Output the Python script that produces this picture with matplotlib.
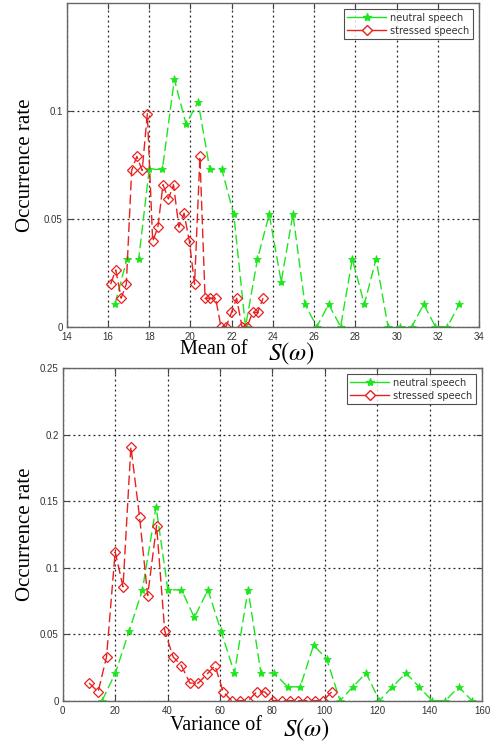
import numpy as np
import matplotlib
matplotlib.use('Agg')
import matplotlib.pyplot as plt

plt.rcParams['mathtext.fontset'] = 'stix'

# mean of S(w): histogram points, neutral speech
mean_neutral_x = [16.34, 16.92, 17.49, 18.0, 18.64, 19.22, 19.79, 20.37, 20.94, 21.52,
                  22.10, 22.67, 23.25, 23.82, 24.40, 24.97, 25.55, 26.13, 26.70, 27.28,
                  27.85, 28.43, 29.00, 29.58, 30.16, 30.73, 31.31, 31.88, 32.46, 33.03]
mean_neutral_y = [0.0104, 0.0313, 0.0313, 0.0729, 0.0729, 0.1146, 0.0938, 0.1042, 0.0729, 0.0729,
                  0.0521, 0.0, 0.0313, 0.0521, 0.0208, 0.0521, 0.0104, 0.0, 0.0104, 0.0,
                  0.0313, 0.0104, 0.0313, 0.0, 0.0, 0.0, 0.0104, 0.0, 0.0, 0.0104]

# mean of S(w): stressed speech
mean_stressed_x = [16.13, 16.38, 16.64, 16.89, 17.15, 17.40, 17.66, 17.91, 18.17, 18.42,
                   18.67, 18.93, 19.18, 19.44, 19.69, 19.95, 20.20, 20.46, 20.71, 20.97,
                   21.22, 21.48, 21.73, 21.99, 22.24, 22.50, 22.75, 23.01, 23.26, 23.52]
mean_stressed_y = [0.0197, 0.0263, 0.0132, 0.0197, 0.0724, 0.0789, 0.0724, 0.0987, 0.0395, 0.0461,
                   0.0658, 0.0592, 0.0658, 0.0461, 0.0526, 0.0395, 0.0197, 0.0789, 0.0132, 0.0132,
                   0.0132, 0.0, 0.0, 0.0066, 0.0132, 0.0, 0.0, 0.0066, 0.0066, 0.0132]

# variance of S(w): neutral speech
var_neutral_x = [15.0, 20.1, 25.3, 30.4, 35.6, 40.1, 45.3, 50.2, 55.4, 60.4,
                 65.5, 70.7, 75.6, 80.6, 85.8, 90.6, 95.7, 100.7, 105.8, 110.7,
                 115.7, 120.8, 125.8, 130.9, 135.9, 140.9, 146.0, 151.1, 156.1]
var_neutral_y = [0.0, 0.0208, 0.0521, 0.0833, 0.1458, 0.0833, 0.0833, 0.0625, 0.0833, 0.0521,
                 0.0208, 0.0833, 0.0208, 0.0208, 0.0104, 0.0104, 0.0417, 0.0313, 0.0, 0.0104,
                 0.0208, 0.0, 0.0104, 0.0208, 0.0104, 0.0, 0.0, 0.0104, 0.0]

# variance of S(w): stressed speech
var_stressed_x = [10.1, 13.5, 16.7, 20.0, 23.0, 26.0, 29.3, 32.4, 35.8, 38.9,
                  42.1, 45.3, 48.5, 51.7, 54.9, 58.1, 61.2, 64.4, 67.6, 70.8,
                  74.0, 77.1, 80.3, 83.5, 86.7, 89.9, 93.1, 96.3, 99.4, 102.6]
var_stressed_y = [0.0132, 0.0066, 0.0329, 0.1118, 0.0855, 0.1908, 0.1382, 0.0789, 0.1316, 0.0526,
                  0.0329, 0.0263, 0.0132, 0.0132, 0.0197, 0.0263, 0.0066, 0.0, 0.0, 0.0,
                  0.0066, 0.0066, 0.0, 0.0, 0.0, 0.0, 0.0, 0.0, 0.0, 0.0066]

green = '#1ee61e'
red = '#e82020'
serif = 'Liberation Serif'

fig = plt.figure(figsize=(4.94, 7.42), dpi=100)
ax1 = fig.add_axes([0.135, 0.5597, 0.835, 0.4363])
ax2 = fig.add_axes([0.127, 0.0557, 0.849, 0.4484])


def style(ax, xlim, ylim, xticks, yticks, yticklabels):
    ax.set_xlim(xlim)
    ax.set_ylim(ylim)
    ax.set_xticks(xticks)
    ax.set_yticks(yticks)
    ax.set_yticklabels(yticklabels)
    ax.grid(True, linestyle=(0, (1.5, 2.5)), color='#222222', linewidth=0.9)
    ax.tick_params(direction='in', top=True, right=True, length=4, width=0.8,
                   labelsize=7, labelcolor='#333333', color='#444444')
    ax.tick_params(axis='x', pad=3.5)
    ax.tick_params(axis='y', pad=3)
    for lab in ax.get_xticklabels() + ax.get_yticklabels():
        lab.set_family('Liberation Sans')
    for sp in ax.spines.values():
        sp.set_color('#666666')
        sp.set_linewidth(1.0)


def draw(ax, nx, ny, sx, sy):
    ax.plot(nx, ny, color=green, linestyle=(0, (7, 3)), linewidth=1.0,
            marker='*', markersize=6, markeredgewidth=0.6)
    ax.plot(sx, sy, color=red, linestyle=(0, (7, 3)), linewidth=1.0,
            marker='D', markersize=5.5, markerfacecolor='none', markeredgewidth=0.9)
    h1, = ax.plot([], [], color=green, linestyle='-', marker='*', markersize=6, linewidth=1.0)
    h2, = ax.plot([], [], color=red, linestyle='-', marker='D', markersize=5.5,
                  markerfacecolor='white', linewidth=1.0)
    leg = ax.legend([h1, h2], ['neutral speech', 'stressed speech'], loc='upper right',
                    fontsize=7, frameon=True, fancybox=False, handlelength=4,
                    borderaxespad=0.6, borderpad=0.4, labelspacing=0.3, handletextpad=0.4)
    leg.get_frame().set_edgecolor('#222222')
    leg.get_frame().set_linewidth(0.8)
    for t in leg.get_texts():
        t.set_color('#333333')


draw(ax1, mean_neutral_x, mean_neutral_y, mean_stressed_x, mean_stressed_y)
style(ax1, (14, 34), (0, 0.15), np.arange(14, 35, 2), [0, 0.05, 0.1], ['0', '0.05', '0.1'])

draw(ax2, var_neutral_x, var_neutral_y, var_stressed_x, var_stressed_y)
style(ax2, (0, 160), (0, 0.25), np.arange(0, 161, 20), [0, 0.05, 0.1, 0.15, 0.2, 0.25],
      ['0', '0.05', '0.1', '0.15', '0.2', '0.25'])

# axis labels: serif words plus a larger S(w)
fig.text(25 / 494, 1 - 165 / 742, 'Occurrence rate', rotation=90, ha='center', va='center',
         family=serif, fontsize=15)
fig.text(25 / 494, 1 - 534 / 742, 'Occurrence rate', rotation=90, ha='center', va='center',
         family=serif, fontsize=15)

fig.text(214 / 494, 1 - 350 / 742, 'Mean of', ha='center', va='center',
         family=serif, fontsize=14.5)
fig.text(292 / 494, 1 - 341 / 742, r'$S(\omega)$', ha='center', va='top', fontsize=18)
fig.text(216 / 494, 1 - 726 / 742, 'Variance of', ha='center', va='center',
         family=serif, fontsize=14.5)
fig.text(307 / 494, 1 - 717 / 742, r'$S(\omega)$', ha='center', va='top', fontsize=18)

fig.savefig('out.png', dpi=100)
